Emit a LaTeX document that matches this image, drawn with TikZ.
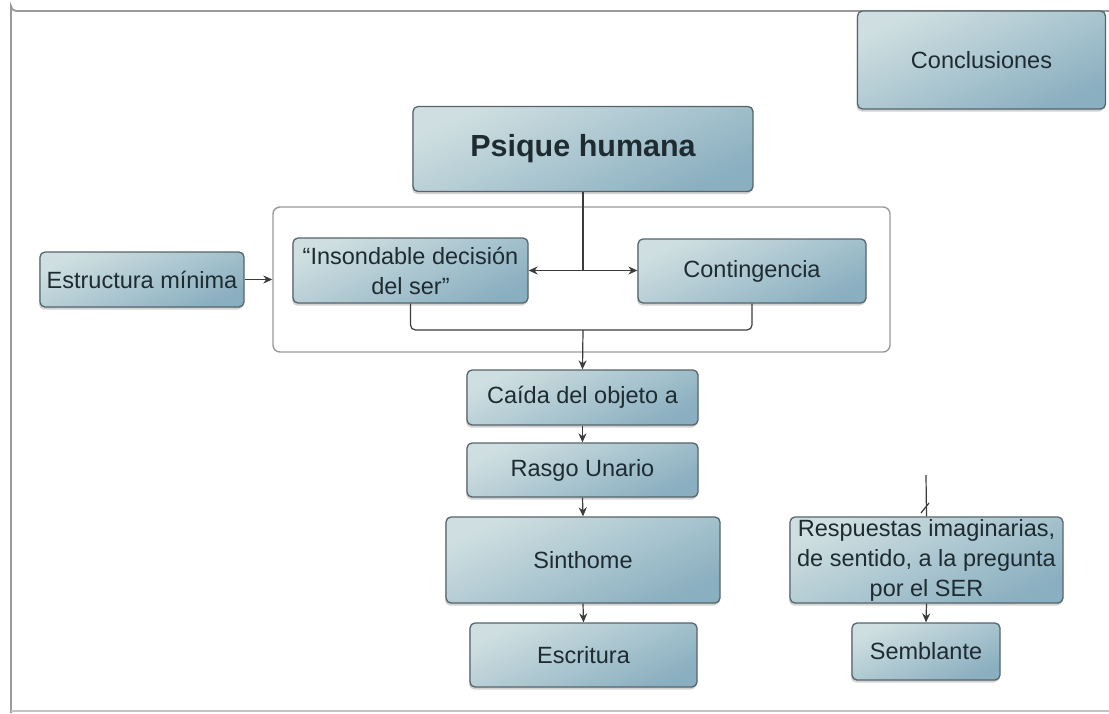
\documentclass[tikz,border=0pt]{standalone}
\usepackage{fontspec}
\setmainfont{Liberation Sans}
\usetikzlibrary{arrows.meta,shadows}
\definecolor{boxA}{HTML}{CFDFE1}
\definecolor{boxB}{HTML}{8AAFC0}
\definecolor{boxline}{HTML}{56656B}
\definecolor{txt}{HTML}{1E2B31}
\definecolor{conn}{HTML}{3C3C3C}
\definecolor{frame}{HTML}{9A9A9A}
\tikzset{
  box/.style={draw=boxline, line width=1.3pt, rounded corners=5pt,
    top color=boxA, bottom color=boxB, shading angle=25,
    drop shadow={shadow xshift=-1pt, shadow yshift=-2.5pt, opacity=0.35},
    text=txt, align=center, inner sep=2pt,
    font=\fontsize{23.5}{30}\selectfont},
  grp/.style={draw=frame, line width=1.4pt, rounded corners=7pt, fill=white},
  conn/.style={draw=conn, line width=1.2pt},
  arr/.style={conn, -{Stealth[length=9pt,width=8pt]}}
}
\begin{document}
\begin{tikzpicture}[x=1pt,y=-1pt]
\useasboundingbox (0,0) rectangle (1109,713);
\fill[white] (0,0) rectangle (1109,713);
% outer frame
\draw[frame, line width=1.8pt] (1109,11) -- (16,11) arc[start angle=90,end angle=180,radius=5] -- (11,713);
\draw[frame!60, line width=1.2pt] (11,711) -- (1109,711);
% group
\node[grp, minimum width=617pt, minimum height=145pt] (grp) at (581.5,279.5) {};
% nodes
\node[box, minimum width=248pt, minimum height=98pt] (concl) at (981.5,60) {Conclusiones};
\node[box, minimum width=340pt, minimum height=85pt, font=\fontsize{30.5}{36}\selectfont\bfseries] (psique) at (583,149) {Psique humana};
\node[box, minimum width=235pt, minimum height=65pt] (ins) at (410.5,270.5) {“Insondable decisión\\del ser”};
\node[box, minimum width=204pt, minimum height=55pt] (estr) at (142,279.5) {Estructura mínima};
\node[box, minimum width=228pt, minimum height=64pt] (cont) at (752,271) {Contingencia};
\node[box, minimum width=231pt, minimum height=55pt] (caida) at (582.5,397.5) {Caída del objeto a};
\node[box, minimum width=231pt, minimum height=54pt] (rasgo) at (582.5,470) {Rasgo Unario};
\node[box, minimum width=274pt, minimum height=86pt] (sinth) at (583,560) {Sinthome};
\node[box, minimum width=227pt, minimum height=64pt] (escr) at (583.5,655) {Escritura};
\node[box, minimum width=273pt, minimum height=86pt] (resp) at (926.5,560) {Respuestas imaginarias,\\de sentido, a la pregunta\\por el SER};
\node[box, minimum width=148pt, minimum height=57pt] (sembl) at (926,651.5) {Semblante};
% connectors
\coordinate (j1) at (583,270.5);
\coordinate (j2) at (583,330);
\draw[conn] (psique.south) -- (j1);
\draw[arr] (j1) -- (ins.east);
\draw[arr] (j1) -- (cont.west |- j1);
\draw[conn, rounded corners=5pt] (ins.south) |- (j2) -| (cont.south);
\draw[arr] (j2) -- (caida.north);
\draw[arr] (estr.east) -- (estr.east -| grp.west);
\draw[arr] (caida.south) -- (rasgo.north);
\draw[arr] (rasgo.south) -- (sinth.north);
\draw[arr] (sinth.south) -- (escr.north);
\draw[arr] (resp.south) -- (sembl.north);
\coordinate (mark) at (926,475);
\draw[conn] (mark) -- (resp.north);
\draw[conn] (929,503) -- (921,513);
\end{tikzpicture}
\end{document}
